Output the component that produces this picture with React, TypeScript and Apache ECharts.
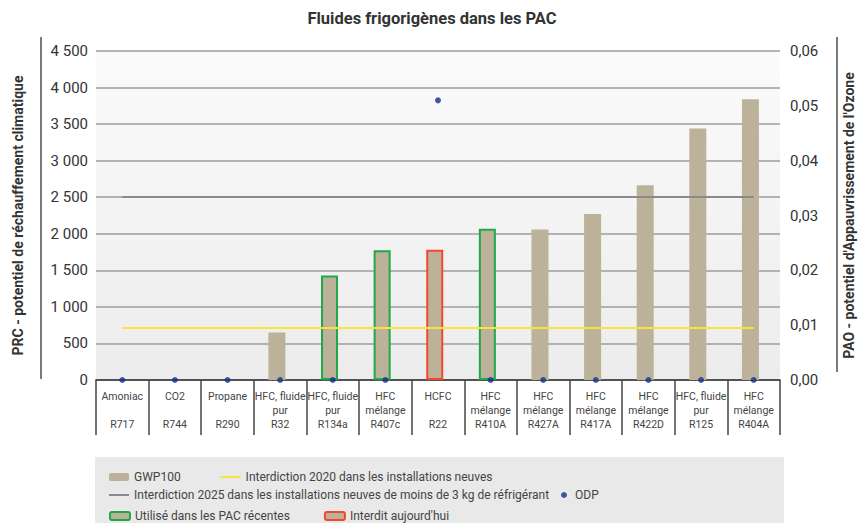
import React, { useEffect, useRef } from "react";
import * as echarts from "echarts";

const codes = ["R717", "R744", "R290", "R32", "R134a", "R407c", "R22", "R410A", "R427A", "R417A", "R422D", "R125", "R404A"];
const kindLine1 = ["Amoniac", "CO2", "Propane", "HFC, fluide", "HFC, fluide", "HFC", "HCFC", "HFC", "HFC", "HFC", "HFC", "HFC, fluide", "HFC"];
const kindLine2 = ["", "", "", "pur", "pur", "mélange", "", "mélange", "mélange", "mélange", "mélange", "pur", "mélange"];
const gwp100 = [0, 0, 0, 650, 1430, 1775, 1780, 2070, 2060, 2270, 2665, 3440, 3840];
const odp = [0, 0, 0, 0, 0, 0, 0.051, 0, 0, 0, 0, 0, 0];
// "used" = Utilisé dans les PAC récentes, "banned" = Interdit aujourd'hui
const status = ["", "", "", "", "used", "used", "banned", "used", "", "", "", "", ""];
const ban2020 = 710;
const ban2025 = 2500;
const leftTicks = { min: 0, max: 4500, interval: 500 };
const rightTicks = { min: 0, max: 0.06, interval: 0.01 };

const FONT = "Roboto, 'Liberation Sans', sans-serif";
const TAN = "#bcb29a";
const GREEN = "#1fa84a";
const RED = "#f0492e";
const YELLOW = "#f7e43c";
const GRAY = "#8a8a8a";
const BLUE = "#15308f";
const LINE_ICON = "path://M0,0L20,0L20,2L0,2Z";

const NAME_BAR = "GWP100";
const NAME_2020 = "Interdiction 2020 dans les installations neuves";
const NAME_2025 = "Interdiction 2025 dans les installations neuves de moins de 3 kg de réfrigérant";
const NAME_ODP = "ODP";
const NAME_USED = "Utilisé dans les PAC récentes";
const NAME_BANNED = "Interdit aujourd'hui";

export default function App() {
  const ref = useRef<HTMLDivElement>(null);
  useEffect(() => {
    if (!ref.current) return;
    const chart = echarts.init(ref.current, undefined, { renderer: "svg" });
    const fmtThousands = (v: number) => String(v).replace(/\B(?=(\d{3})+(?!\d))/g, " ");
    const legendText = { fontFamily: FONT, fontSize: 12, color: "#444" };
    const first = codes[0];
    const last = codes[codes.length - 1];
    chart.setOption({
      animation: false,
      backgroundColor: "#ffffff",
      textStyle: { fontFamily: FONT },
      title: {
        text: "Fluides frigorigènes dans les PAC",
        left: "center",
        top: 5,
        textStyle: { fontFamily: FONT, fontSize: 16.5, fontWeight: "bold", color: "#333" },
      },
      graphic: [
        { type: "rect", z: 0, shape: { x: 95, y: 457, width: 689, height: 66 }, style: { fill: "#e9e9e9" } },
        { type: "line", z: 0, shape: { x1: 41, y1: 37, x2: 41, y2: 379 }, style: { stroke: "#7a7a7a", lineWidth: 2 } },
        { type: "line", z: 0, shape: { x1: 837, y1: 37, x2: 837, y2: 372 }, style: { stroke: "#7a7a7a", lineWidth: 2 } },
      ],
      legend: [
        {
          left: 104, top: 466, itemWidth: 20, itemHeight: 8, itemGap: 40, selectedMode: false,
          symbolKeepAspect: true,
          textStyle: legendText, data: [NAME_BAR, { name: NAME_2020, icon: LINE_ICON }],
        },
        {
          left: 104, top: 484, itemWidth: 20, itemHeight: 8, selectedMode: false,
          symbolKeepAspect: true,
          textStyle: legendText, data: [{ name: NAME_2025, icon: LINE_ICON }],
        },
        {
          left: 556, top: 484, itemWidth: 12, itemHeight: 6, itemGap: 4, selectedMode: false,
          textStyle: legendText, data: [{ name: NAME_ODP, icon: "circle" }],
        },
        {
          left: 104, top: 505, itemWidth: 20, itemHeight: 8, itemGap: 34, selectedMode: false,
          textStyle: legendText, data: [NAME_USED, NAME_BANNED],
        },
      ],
      grid: {
        left: 96, right: 80, top: 51, bottom: 143,
        show: true, borderWidth: 0,
        backgroundColor: new echarts.graphic.LinearGradient(0, 0, 0, 1, [
          { offset: 0, color: "#fbfbfb" },
          { offset: 1, color: "#ececec" },
        ]),
      },
      xAxis: {
        type: "category",
        data: codes,
        axisLine: { show: true, lineStyle: { color: "#333", width: 1.5 } },
        axisTick: { show: true, interval: 0, length: 55, lineStyle: { color: "#444", width: 1.5 } },
        axisLabel: {
          interval: 0,
          margin: 9,
          fontFamily: FONT,
          fontSize: 10.5,
          lineHeight: 14,
          color: "#444",
          formatter: (v: string, i: number) => `${kindLine1[i]}\n${kindLine2[i]}\n${v}`,
        },
      },
      yAxis: [
        {
          type: "value",
          ...leftTicks,
          name: "PRC - potentiel de réchauffement climatique",
          nameLocation: "middle",
          nameGap: 71,
          nameTextStyle: { fontFamily: FONT, fontSize: 14, fontWeight: "bold", color: "#333" },
          axisLine: { show: false },
          axisTick: { show: false },
          axisLabel: { fontFamily: FONT, fontSize: 15, color: "#333", margin: 8, formatter: fmtThousands },
          splitLine: { show: true, lineStyle: { color: "#9c9c9c", width: 1.5 } },
        },
        {
          type: "value",
          ...rightTicks,
          position: "right",
          name: "PAO - potentiel d'Appauvrissement de l'Ozone",
          nameLocation: "middle",
          nameGap: 62,
          nameRotate: 90,
          nameTextStyle: { fontFamily: FONT, fontSize: 14, fontWeight: "bold", color: "#333" },
          axisLine: { show: false },
          axisTick: { show: false },
          axisLabel: {
            fontFamily: FONT, fontSize: 15, color: "#333", margin: 10,
            formatter: (v: number) => v.toFixed(2).replace(".", ","),
          },
          splitLine: { show: false },
        },
      ],
      series: [
        {
          name: NAME_BAR,
          type: "bar",
          barWidth: 17,
          z: 3,
          itemStyle: { color: TAN },
          data: gwp100.map((v, i) => ({
            value: v,
            itemStyle:
              status[i] === "used"
                ? { color: TAN, borderColor: GREEN, borderWidth: 2 }
                : status[i] === "banned"
                ? { color: TAN, borderColor: RED, borderWidth: 2 }
                : { color: TAN },
          })),
        },
        {
          name: NAME_2020,
          type: "line",
          symbol: "none",
          lineStyle: { color: YELLOW, width: 2 },
          itemStyle: { color: YELLOW },
          data: [],
          markLine: {
            silent: true,
            symbol: "none",
            label: { show: false },
            lineStyle: { color: YELLOW, width: 2, type: "solid" },
            data: [[{ xAxis: first, yAxis: ban2020 }, { xAxis: last, yAxis: ban2020 }]],
          },
          z: 4,
        },
        {
          name: NAME_2025,
          type: "line",
          symbol: "none",
          lineStyle: { color: GRAY, width: 2 },
          itemStyle: { color: GRAY },
          data: [],
          markLine: {
            silent: true,
            symbol: "none",
            label: { show: false },
            lineStyle: { color: GRAY, width: 2, type: "solid" },
            data: [[{ xAxis: first, yAxis: ban2025 }, { xAxis: last, yAxis: ban2025 }]],
          },
          z: 2,
        },
        {
          name: NAME_ODP,
          type: "scatter",
          yAxisIndex: 1,
          symbol: "circle",
          symbolSize: 6,
          itemStyle: { color: BLUE },
          data: odp,
          z: 6,
        },
        {
          name: NAME_USED,
          type: "bar",
          data: [],
          itemStyle: { color: TAN, borderColor: GREEN, borderWidth: 2 },
        },
        {
          name: NAME_BANNED,
          type: "bar",
          data: [],
          itemStyle: { color: TAN, borderColor: RED, borderWidth: 2 },
        },
      ],
    });
    return () => chart.dispose();
  }, []);
  return <div ref={ref} style={{ position: "fixed", left: 0, top: 0, width: 864, height: 523 }} />;
}
